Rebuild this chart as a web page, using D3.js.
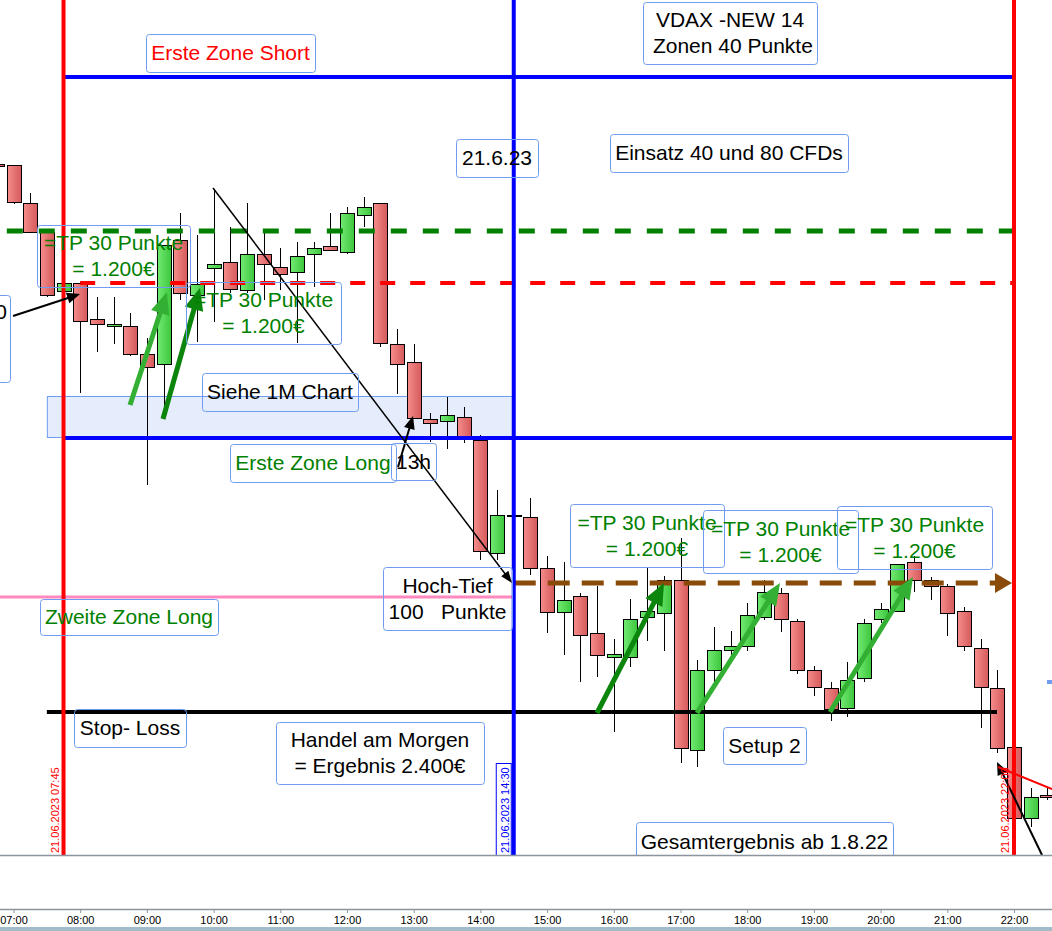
<!DOCTYPE html>
<html><head><meta charset="utf-8">
<script src="https://cdn.jsdelivr.net/npm/d3@7"></script>
<style>
html,body{margin:0;padding:0;background:#fff;overflow:hidden}
svg{display:block;font-family:"Liberation Sans",Arial,sans-serif}
</style></head><body>
<svg id="c" width="1052" height="931"></svg>
<script>
// ---------- DATA ----------
const times = ["06:45","07:00","07:15","07:30","07:45","08:00","08:15","08:30","08:45","09:00","09:15","09:30","09:45",
"10:00","10:15","10:30","10:45","11:00","11:15","11:30","11:45","12:00","12:15","12:30","12:45","13:00","13:15","13:30","13:45",
"14:00","14:15","14:30","14:45","15:00","15:15","15:30","15:45","16:00","16:15","16:30","16:45","17:00","17:15","17:30","17:45",
"18:00","18:15","18:30","18:45","19:00","19:15","19:30","19:45","20:00","20:15","20:30","20:45","21:00","21:15","21:30","21:45",
"22:00","22:15","22:30"];
const open = [16109,16108.75,16099.25,16092,16077.25,16079.25,16070.25,16068.5,16068.5,16061.5,16059,16090,16076.25,
16083,16084.5,16077.5,16086.5,16083.25,16082,16086.5,16088.5,16087,16096.25,16099.25,16064,16059.5,16045.25,16044.75,16045.75,
16040,16011.75,16021.25,16020.75,16008,15997,16001,15991.75,15985.75,15985.75,15995.75,15996.75,16005,15962.5,15982.5,15987.5,
15988.5,15995.75,16001.75,15994.75,15982.5,15978,15973,15980.5,15995.25,15997.25,16009.5,16005,16003.5,15997.25,15988,15978,
15963.25,15945.5,15951.25];
const high = [16109.25,16108.75,16101.75,16092.5,16079.25,16079.5,16075.75,16075.75,16071.75,16065.5,16088.75,16096.75,16091.25,
16102.75,16093.25,16099.25,16091.75,16088,16089.5,16089.5,16096.75,16098.25,16100.75,16099.25,16067.75,16064,16046.75,16050.75,16048.25,
16041.25,16027.5,16021.25,16025.5,16011,16009.5,16001.75,16003.5,15990.25,16000.25,16008,16006,16015.5,15985,15993.25,15992.25,
15999.25,16005,16003,15995.25,15983.5,15979.5,15984.5,15995.25,15999.25,16009,16011,16005.75,16004,15998.25,15990.25,15982.5,
15963.25,15953,15953];
const low = [16108.25,16099,16091.75,16075.75,16077.25,16051.75,16062,16064,16061,16028.75,16046.75,16075,16064.5,
16069.5,16076.75,16076.75,16075,16077.5,16064.25,16078.25,16087.5,16086.5,16093.25,16063.25,16051.5,16045.5,16039.5,16037.75,16039.25,
16010,16010,16021,16006.25,15991.75,15986.25,15979.5,15980.75,15967,15983.25,15989.75,15987.25,15959.25,15958.25,15979.5,15985.75,
15987.25,15995,15992,15981.5,15976,15969.75,15970.75,15979.5,15994.25,15997.25,16002,16000,15991,15987.25,15968,15961.75,
15945.5,15943.25,15950];
const close = [16108.5,16099.5,16092,16076.25,16079.25,16069.75,16069,16069,16061.5,16058.25,16088.75,16076.75,16079,
16084,16077.75,16086.5,16084,16081.5,16086,16088,16087.5,16096.75,16098.25,16064.25,16059,16045.5,16044.25,16046.25,16041,
16012.25,16021.25,16021,16008,15997,16000,15991.25,15986.25,15986.5,15995.25,15997.25,16005,15963,15982.5,15987.5,15988.5,
15996.25,16002,15995.25,15982.5,15978.25,15972.75,15980,15994.25,15997.75,16009,16005,16003.5,15996.75,15988.5,15978.25,15963,
15945.5,15950.75,15950.75];
const tickLabels = ["07:00","08:00","09:00","10:00","11:00","12:00","13:00","14:00","15:00","16:00","17:00","18:00","19:00","20:00","21:00","22:00"];

// horizontal levels (price, from hour, to hour)
const levelNames  = ["zoneShort","zoneLong1","tpGreen","entryRed","hochTief","zoneLong2","stopLoss"];
const levelPrices = [16130.75,16040.5,16092.25,16079.25,16004.25,16000.75,15972];
const levelFrom   = [7.75,7.75,6.42,8.0,14.5,6.5,7.5];
const levelTo     = [22,22,22,22,21.97,14.5,21.745];

// vertical time markers
const markerTimes  = ["07:45","14:30","22:00"];
const markerLabels = ["21.06.2023 07:45","21.06.2023 14:30","21.06.2023 22:00"];

// zone rectangle (hours / prices)
const zoneHours  = [7.5,14.5];
const zonePrices = [16051,16040.75];

// arrows / drawn lines : [hour, price] start and end
const arrowKinds = ["black","diag","black","black","redline","lightGreen","darkGreen","darkGreen","lightGreen","lightGreen"];
const arrowStart = [[6.993,16071],[9.991,16103],[12.765,16033.25],[22.42,15936.25],[21.76,15958.25],
                    [8.747,16048.75],[9.241,16045.25],[15.748,15971.75],[17.247,15971.75],[19.241,15972]];
const arrowEnd   = [[7.997,16076.5],[14.474,16004.25],[12.99,16046],[21.745,15959.5],[22.57,15952.75],
                    [9.301,16077],[9.796,16078],[16.753,16004.25],[18.492,16004.25],[20.486,16005.75]];

// text notes
const noteTexts = [["Erste Zone Short"],["VDAX -NEW 14"," Zonen 40 Punkte"],["21.6.23"],["Einsatz 40 und 80 CFDs"],
  ["=TP 30 Punkte","= 1.200€"],["=TP 30 Punkte","= 1.200€"],["Siehe 1M Chart"],["Erste Zone Long"],["13h"],
  ["Hoch-Tief","100   Punkte"],["Zweite Zone Long"],["Stop- Loss"],["Handel am Morgen","= Ergebnis 2.400€"],
  ["=TP 30 Punkte","= 1.200€"],["=TP 30 Punkte","= 1.200€"],["=TP 30 Punkte","= 1.200€"],["Setup 2"],["Gesamtergebnis ab 1.8.22"]];
const noteColors = ["red","black","black","black","green","green","black","green","black","black","green","black","black",
  "green","green","green","black","black"];

// ---------- LAYOUT / STYLE ----------
const W = 1052, H = 931, plotBottom = 855, axisY = 909;
const noteBoxes = [[146,34,169,38],[643,2,174,62],[456,139,82,38],[610,134,238,38],
  [37,225,153,62],[186,282,155,62],[202,373,156,38],[230,444,166,38],[391,443,45,37],
  [383,567,129,63],[40,599,178,36],[74,709,112,38],[276,722,208,62],
  [570,504,154,63],[703,510,155,63],[837,506,155,63],[723,727,83,37],[636,822,257,39]];
const levelStyle = {
  zoneShort:{c:"#0000ff",w:4,d:null}, zoneLong1:{c:"#0000ff",w:4,d:null},
  tpGreen:{c:"#008000",w:5,d:"16,16"}, entryRed:{c:"#ff0000",w:4,d:"15,15"},
  hochTief:{c:"#8a4a0a",w:5,d:"22,12"}, zoneLong2:{c:"#ff88bf",w:3,d:null},
  stopLoss:{c:"#000000",w:4,d:null}
};
const markerColors = ["#ff0000","#0000ff","#ff0000"];
const arrowStyle = {
  black:{c:"#000",w:2,hl:13,hw:11,head:true}, diag:{c:"#000",w:1.5,hl:12,hw:9,head:true},
  redline:{c:"#ff0000",w:2,head:false},
  lightGreen:{c:"#33b033",w:5,hl:22,hw:19,head:true}, darkGreen:{c:"#0b850b",w:5,hl:22,hw:19,head:true}
};
const boxStroke = "#6f9cf0";
const noteFont = "21px";

// ---------- SCALES ----------
const parse = d3.timeParse("%H:%M");
const base = parse("00:00");
const hToDate = h => new Date(base.getTime() + h*3600e3);
const x = d3.scaleTime().domain([parse("07:00"), parse("22:00")]).range([13.5, 1014]);
const y = d3.scaleLinear().domain([15936.25, 16150]).range([plotBottom, 0]);
const xh = h => x(hToDate(h));

const svg = d3.select("#c");
const defs = svg.append("defs");
const gr = defs.append("linearGradient").attr("id","gRed");
gr.append("stop").attr("offset","0%").attr("stop-color","#f58c8c");
gr.append("stop").attr("offset","100%").attr("stop-color","#d55a5a");
const gg = defs.append("linearGradient").attr("id","gGreen");
gg.append("stop").attr("offset","0%").attr("stop-color","#72ea72");
gg.append("stop").attr("offset","100%").attr("stop-color","#3cc63c");
defs.append("clipPath").attr("id","plotClip").append("rect").attr("x",0).attr("y",0).attr("width",W).attr("height",plotBottom+0.5);

svg.append("rect").attr("width",W).attr("height",H).attr("fill","#fff");
const plot = svg.append("g").attr("clip-path","url(#plotClip)");

// zone rect
plot.append("rect")
  .attr("x", xh(zoneHours[0])+0.5).attr("y", Math.round(y(zonePrices[0]))+0.5)
  .attr("width", xh(zoneHours[1]) - xh(zoneHours[0]))
  .attr("height", y(zonePrices[1]) - y(zonePrices[0]))
  .attr("fill","#e5ecfc").attr("stroke",boxStroke).attr("stroke-width",1);

// candles
const candles = times.map((t,i)=>({t:parse(t),o:open[i],h:high[i],l:low[i],c:close[i]}));
const cg = plot.append("g");
candles.forEach(d=>{
  const cx = Math.round(x(d.t));
  const up = d.c >= d.o;
  cg.append("line").attr("x1",cx+0.5).attr("x2",cx+0.5)
    .attr("y1",y(d.h)).attr("y2",y(d.l)).attr("stroke","#000").attr("stroke-width",1);
  const top = Math.round(y(Math.max(d.o,d.c))), bot = Math.round(y(Math.min(d.o,d.c)));
  cg.append("rect").attr("x",cx-6.5).attr("y",top+0.5).attr("width",14).attr("height",Math.max(1,bot-top))
    .attr("fill", up ? "url(#gGreen)" : "url(#gRed)").attr("stroke","#000").attr("stroke-width",1);
});

// levels
levelNames.forEach((n,i)=>{
  const s = levelStyle[n];
  const yy = Math.round(y(levelPrices[i]));
  let x2 = xh(levelTo[i]);
  if (n==="hochTief") x2 -= 16;
  const ln = plot.append("line").attr("x1",xh(levelFrom[i])).attr("x2",x2)
    .attr("y1",yy).attr("y2",yy).attr("stroke",s.c).attr("stroke-width",s.w);
  if (s.d) ln.attr("stroke-dasharray",s.d);
  if (n==="hochTief") {
    const tx = xh(levelTo[i]);
    plot.append("path").attr("d",`M${tx},${yy} L${tx-17},${yy-10} L${tx-17},${yy+10} Z`).attr("fill",s.c);
  }
});

// vertical markers
markerTimes.forEach((t,i)=>{
  const xx = x(parse(t));
  plot.append("line").attr("x1",xx).attr("x2",xx).attr("y1",0).attr("y2",plotBottom)
    .attr("stroke",markerColors[i]).attr("stroke-width",4);
});

// arrows
function arrow(g,x1,y1,x2,y2,s){
  const dx=x2-x1, dy=y2-y1, L=Math.hypot(dx,dy), ux=dx/L, uy=dy/L;
  if(!s.head){
    g.append("line").attr("x1",x1).attr("y1",y1).attr("x2",x2).attr("y2",y2).attr("stroke",s.c).attr("stroke-width",s.w);
    return;
  }
  const bx=x2-ux*s.hl, by=y2-uy*s.hl;
  g.append("line").attr("x1",x1).attr("y1",y1).attr("x2",bx+ux*2).attr("y2",by+uy*2)
    .attr("stroke",s.c).attr("stroke-width",s.w);
  const nx=-uy, ny=ux;
  g.append("path").attr("d",`M${x2},${y2} L${bx+nx*s.hw/2},${by+ny*s.hw/2} L${bx-nx*s.hw/2},${by-ny*s.hw/2} Z`)
    .attr("fill",s.c);
}
arrowKinds.forEach((k,i)=>{
  arrow(plot, xh(arrowStart[i][0]), y(arrowStart[i][1]), xh(arrowEnd[i][0]), y(arrowEnd[i][1]), arrowStyle[k]);
});

// notes
const ng = plot.append("g");
noteTexts.forEach((lines,i)=>{
  const [bx,by,bw,bh] = noteBoxes[i];
  ng.append("rect").attr("x",bx+0.5).attr("y",by+0.5).attr("width",bw).attr("height",bh).attr("rx",3)
    .attr("fill","none").attr("stroke",boxStroke).attr("stroke-width",1);
  const cx = bx + bw/2, cy = by + bh/2 - (lines.length-1)*13;
  lines.forEach((ln,j)=>{
    ng.append("text").attr("x",cx).attr("y",cy + j*26 + 7).attr("text-anchor","middle")
      .attr("font-size",noteFont).attr("fill", noteColors[i]==="green" ? "#008000" : noteColors[i]==="red" ? "#ff0000" : "#000")
      .style("white-space","pre").attr("xml:space","preserve").text(ln);
  });
});
// partial note at left edge
ng.append("rect").attr("x",-100.5).attr("y",295.5).attr("width",111).attr("height",87).attr("rx",3)
  .attr("fill","none").attr("stroke",boxStroke);
ng.append("text").attr("x",7).attr("y",319).attr("text-anchor","end").attr("font-size",noteFont).attr("fill","#000").text("0");
ng.append("rect").attr("x",1047).attr("y",680).attr("width",5).attr("height",4).attr("fill","#6f9cf0");

// vertical date labels
markerTimes.forEach((t,i)=>{
  const xx = x(parse(t));
  if (i===1) {
    plot.append("rect").attr("x",xx-17.5).attr("y",763.5).attr("width",15).attr("height",92)
      .attr("fill","#fff").attr("stroke","#0000ff").attr("stroke-width",1);
  }
  plot.append("text").attr("transform",`translate(${xx-5},${plotBottom-2}) rotate(-90)`)
    .attr("font-size","11px").attr("fill",markerColors[i]).text(markerLabels[i]);
});

// axis area
svg.append("line").attr("x1",0).attr("x2",W).attr("y1",plotBottom+0.5).attr("y2",plotBottom+0.5)
  .attr("stroke","#8a959f").attr("stroke-width",1.5);
svg.append("line").attr("x1",0).attr("x2",W).attr("y1",axisY+0.5).attr("y2",axisY+0.5)
  .attr("stroke","#8a959f").attr("stroke-width",1.5);
const ax = svg.append("g").attr("transform",`translate(0,${axisY})`)
  .call(d3.axisBottom(x).tickValues(tickLabels.map(parse)).tickFormat(d3.timeFormat("%H:%M")).tickSize(4).tickPadding(3));
ax.select(".domain").remove();
ax.selectAll(".tick line").attr("stroke","#8a959f");
ax.selectAll("text").attr("font-size","11px").attr("font-family","'Liberation Sans',Arial,sans-serif").attr("fill","#000");
svg.append("rect").attr("x",0).attr("y",927).attr("width",W).attr("height",4).attr("fill","#a2bccb");
</script>
</body></html>
